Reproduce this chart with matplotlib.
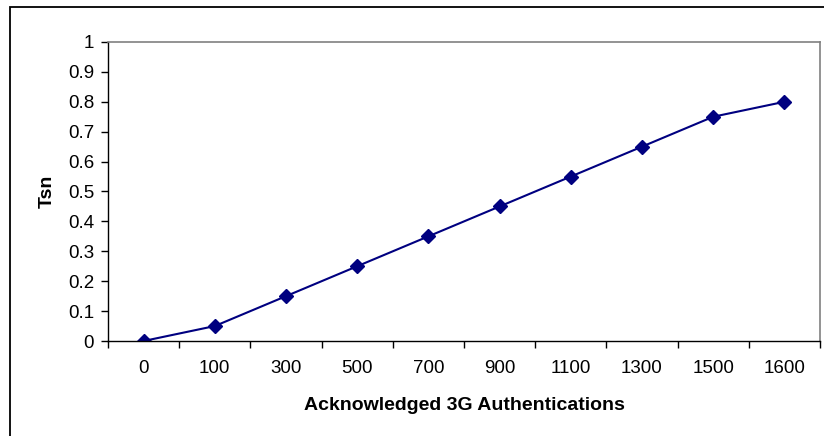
import matplotlib.pyplot as plt
from matplotlib.patches import Rectangle

plt.rcParams['font.family'] = ['Liberation Sans', 'DejaVu Sans']

# datos
categorias = ['0', '100', '300', '500', '700', '900', '1100', '1300', '1500', '1600']
tsn = [0.0, 0.05, 0.15, 0.25, 0.35, 0.45, 0.55, 0.65, 0.75, 0.80]
y_ticks = [0, 0.1, 0.2, 0.3, 0.4, 0.5, 0.6, 0.7, 0.8, 0.9, 1]
y_labels = ['0', '0.1', '0.2', '0.3', '0.4', '0.5', '0.6', '0.7', '0.8', '0.9', '1']

W, H = 824, 436
fig = plt.figure(figsize=(W / 100, H / 100), dpi=100)

# marco exterior del grafico
fig.patches.append(Rectangle((10 / W, -0.1), 1.2, 1 - 7 / H + 0.1,
                             transform=fig.transFigure, fill=False,
                             edgecolor='black', linewidth=1.3))

left, right, top, bottom = 108, 820, 42, 341
ax = fig.add_axes([left / W, 1 - bottom / H, (right - left) / W, (bottom - top) / H])

x = range(len(categorias))
ax.plot(x, tsn, color='#000080', linewidth=1.5, marker='D', markersize=7,
        markerfacecolor='#000080', markeredgecolor='#000080')

ax.set_xlim(-0.5, len(categorias) - 0.5)
ax.set_ylim(0, 1)
ax.set_xticks([i - 0.5 for i in range(len(categorias) + 1)])
ax.set_xticklabels([])
ax.set_xticks(list(x), minor=True)
ax.set_xticklabels(categorias, minor=True, fontsize=13.5)
ax.tick_params(axis='x', which='minor', length=0, pad=14)
ax.tick_params(axis='x', which='major', length=5, width=1, direction='out')
ax.set_yticks(y_ticks)
ax.set_yticklabels(y_labels, fontsize=13.5)
ax.tick_params(axis='y', length=5, width=1, direction='out', pad=5)

for s in ['top', 'right']:
    ax.spines[s].set_color('#808080')
    ax.spines[s].set_linewidth(1.2)
for s in ['left', 'bottom']:
    ax.spines[s].set_color('black')
    ax.spines[s].set_linewidth(1.0)

ax.set_xlabel('Acknowledged 3G Authentications', fontsize=14, fontweight='bold', labelpad=14)
ax.set_ylabel('Tsn', fontsize=14, fontweight='bold', labelpad=9)

plt.savefig('out.png', dpi=100)
